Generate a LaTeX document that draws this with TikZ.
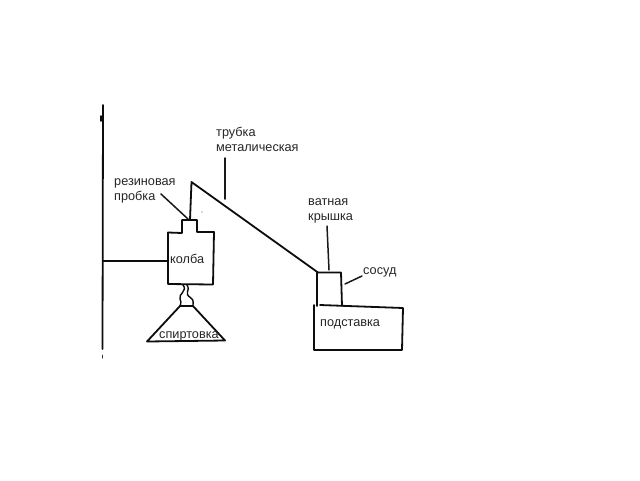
\documentclass[tikz,border=0pt]{standalone}
\usepackage{fontspec}
\setmainfont{Liberation Sans}
\begin{document}
\begin{tikzpicture}[x=1pt, y=-1pt, line cap=round, line join=round,
    sketch/.style={draw=black!95, line width=1.8pt},
    leader/.style={draw=black!90, line width=1.5pt},
    label/.style={font=\fontsize{12.7}{15}\selectfont, text=black!85, align=left, anchor=west, inner sep=0pt}]
  \useasboundingbox[fill=white] (0,0) rectangle (640,480);
  % stand
  \draw[sketch] (103,105) -- (102.5,349);
  \draw[sketch] (101,116) -- (101,121);
  \draw[line width=1pt, black!80] (102,355) -- (102,358);
  \draw[sketch] (103,261) -- (168,261);
  % flask and stopper
  \draw[sketch] (182,233) -- (168,232.5) -- (168,284) -- (213,284.5) -- (214,232) -- (197,232) -- (197,220) -- (182,220) -- (182,233);
  % tube
  \draw[sketch] (190,220) -- (191.5,182) -- (318,272.5);
  \fill[black!60] (202,212) circle (0.6);
  % flame
  \draw[sketch, line width=1.4pt] (183,285) .. controls (188,291) and (178,294) .. (180,299) .. controls (182,303) and (180,305) .. (180,306);
  \draw[sketch, line width=1.4pt] (187,285) .. controls (191,291) and (183,293) .. (191,298) .. controls (194,300) and (193,303) .. (193,306);
  % burner
  \draw[sketch] (180,306) -- (193,306) -- (225,340.5) -- (147,341.5) -- cycle;
  % vessel
  \draw[sketch] (317,306) -- (317,272.5) -- (341,272.5) -- (342,306);
  % stand box
  \draw[sketch] (314,305) -- (314,350) -- (402,350) -- (403,308) -- (320,305);
  % labels
  \node[label] (truba) at (216,139) {трубка\\металическая};
  \node[label] (probka) at (114,190.5) {резиновая\\пробка};
  \node[label] (kolba) at (170,259) {колба};
  \node[label] (spirtovka) at (159,336.5) {спиртовка};
  \node[label] (kryshka) at (308,210.5) {ватная\\крышка};
  \node[label] (sosud) at (363,272) {сосуд};
  \node[label] (podstavka) at (320,324) {подставка};
  % leaders
  \coordinate (trubaend) at (225,199);
  \coordinate (probkaend) at (188,219);
  \coordinate (kryshkaend) at (329,270);
  \coordinate (sosudend) at (345,284);
  \draw[leader] (225,158) -- (trubaend);
  \draw[leader] (161,194) -- (probkaend);
  \draw[leader] (327,226) -- (kryshkaend);
  \draw[leader] (362,276) -- (sosudend);
\end{tikzpicture}
\end{document}
